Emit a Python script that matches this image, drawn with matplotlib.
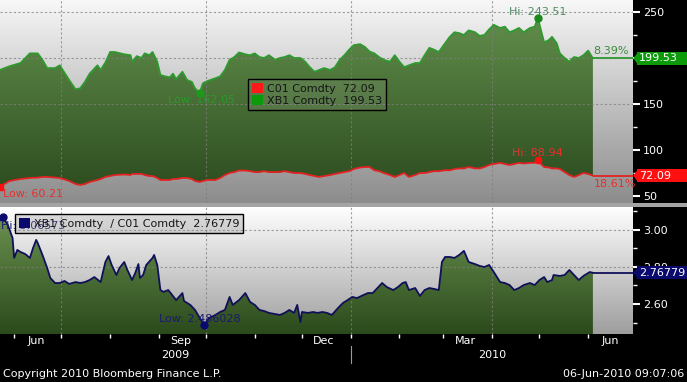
import numpy as np
import pandas as pd
import matplotlib
matplotlib.use('Agg')
import matplotlib.pyplot as plt
import matplotlib.dates as mdates
import matplotlib.transforms as mtrans
from matplotlib.patches import Polygon, Rectangle, Patch
from matplotlib.ticker import AutoMinorLocator, FormatStrFormatter

plt.rcParams['font.family'] = ['DejaVu Sans']

# ---------------- data ----------------
top_dates = ['2009-05-23','2009-05-29','2009-06-05','2009-06-11','2009-06-16','2009-06-19','2009-06-22','2009-06-27','2009-06-30','2009-07-03',
             '2009-07-06','2009-07-10','2009-07-13','2009-07-16','2009-07-19','2009-07-24','2009-07-26','2009-07-29','2009-08-01','2009-08-04',
             '2009-08-10','2009-08-14','2009-08-15','2009-08-18','2009-08-21','2009-08-23','2009-08-26','2009-08-28','2009-08-31','2009-09-02',
             '2009-09-05','2009-09-08','2009-09-10','2009-09-12','2009-09-16','2009-09-19','2009-09-22','2009-09-24','2009-09-27','2009-09-29',
             '2009-10-02','2009-10-07','2009-10-10','2009-10-13','2009-10-16','2009-10-19','2009-10-22','2009-10-26','2009-10-29','2009-11-01',
             '2009-11-04','2009-11-07','2009-11-10','2009-11-14','2009-11-17','2009-11-20','2009-11-23','2009-11-26','2009-11-30','2009-12-03',
             '2009-12-06','2009-12-09','2009-12-12','2009-12-15','2009-12-19','2009-12-22','2009-12-25','2009-12-28','2009-12-31','2010-01-03',
             '2010-01-07','2010-01-10','2010-01-13','2010-01-16','2010-01-19','2010-01-22','2010-01-26','2010-01-29','2010-02-01','2010-02-04',
             '2010-02-07','2010-02-11','2010-02-14','2010-02-17','2010-02-20','2010-02-23','2010-02-26','2010-03-02','2010-03-05','2010-03-08',
             '2010-03-11','2010-03-14','2010-03-17','2010-03-21','2010-03-24','2010-03-27','2010-03-30','2010-04-02','2010-04-06','2010-04-09',
             '2010-04-12','2010-04-15','2010-04-18','2010-04-21','2010-04-25','2010-04-28','2010-04-30','2010-05-02','2010-05-04','2010-05-07',
             '2010-05-09','2010-05-12','2010-05-14','2010-05-17','2010-05-20','2010-05-23','2010-05-26','2010-05-29','2010-06-01','2010-06-04']

xb1 = [187,191,194.5,205,205,198,189,189,192,184,
       176,166,167,174,183,192,187,195,206.5,206.5,
       204,203,196,202,200,205,203,206.5,196,181.5,
       180,179,183,177,185,176,174,167,162.05,172.5,
       175,178,180,187,198,201,206,204,203,205,
       201,200,203,198,200,201,203,200,200,196,
       190,185,187,189,187,190,198,203,209,214,
       215,212,207,205,201,198,196,203,196,190,
       192,194.5,194.5,203,211,209,206.5,216,223,228,
       227,225,230,228,224,225,231,236,232.6,234,
       228,230,232.6,228,232.6,234,243.51,230,217,219.5,
       223,216,205,200,196,201,200,203,208,199.53]

c01 = [60.21,66.3,68.5,69.6,70,70.7,70.7,70,69.6,68,
       66.3,63,62,63,65.2,67.4,68.5,70.7,71.7,72.8,
       73.4,72.8,74,74,74,72.8,71.7,71.7,69.6,67.4,
       67.4,67.4,68.5,68.5,69.6,69.6,68.5,66.3,65.2,66.3,
       67.4,67.4,69.6,72.8,75,76,77.7,77.7,77,76,
       76,77,76,76,76,77,76,75,75,74,
       72.8,71.7,70.7,71.7,72.8,74,75,76,77,79.3,
       81,81.5,81.5,78,77,75,72.8,70.7,72.8,75,
       70.7,72.8,75,75,76,77,77,78,78,79.3,
       80,80,81.5,80,80,81.5,83.7,84.8,86,84.8,
       83.7,84.8,86,85.3,86,86,88.94,84.8,81.5,81,
       80,80,79.3,76,72.8,70.7,72.8,75,74,72.09]

ratio_dates = ['2009-05-23','2009-05-25','2009-05-28','2009-05-31','2009-06-01','2009-06-03','2009-06-05','2009-06-08','2009-06-11','2009-06-13',
               '2009-06-15','2009-06-16','2009-06-19','2009-06-22','2009-06-24','2009-06-27','2009-06-30','2009-07-03','2009-07-06','2009-07-10',
               '2009-07-13','2009-07-16','2009-07-19','2009-07-22','2009-07-26','2009-07-29','2009-07-31','2009-08-02','2009-08-05','2009-08-07',
               '2009-08-10','2009-08-12','2009-08-15','2009-08-17','2009-08-19','2009-08-20','2009-08-22','2009-08-24','2009-08-28','2009-08-29',
               '2009-08-31','2009-09-02','2009-09-04','2009-09-07','2009-09-10','2009-09-12','2009-09-16','2009-09-17','2009-09-21','2009-09-24',
               '2009-09-27','2009-09-30','2009-10-03','2009-10-07','2009-10-10','2009-10-13','2009-10-16','2009-10-18','2009-10-22','2009-10-26',
               '2009-10-29','2009-11-01','2009-11-04','2009-11-07','2009-11-10','2009-11-17','2009-11-20','2009-11-23','2009-11-26','2009-11-28',
               '2009-11-30','2009-12-01','2009-12-05','2009-12-08','2009-12-11','2009-12-14','2009-12-17','2009-12-20','2009-12-24','2009-12-27',
               '2009-12-30','2010-01-02','2010-01-05','2010-01-09','2010-01-12','2010-01-15','2010-01-18','2010-01-21','2010-01-24','2010-01-28',
               '2010-01-31','2010-02-03','2010-02-05','2010-02-07','2010-02-11','2010-02-14','2010-02-17','2010-02-20','2010-02-23','2010-02-26',
               '2010-02-28','2010-03-02','2010-03-05','2010-03-08','2010-03-11','2010-03-14','2010-03-17','2010-03-21','2010-03-24','2010-03-27',
               '2010-03-30','2010-04-02','2010-04-06','2010-04-09','2010-04-12','2010-04-15','2010-04-18','2010-04-21','2010-04-25','2010-04-28',
               '2010-05-01','2010-05-04','2010-05-06','2010-05-09','2010-05-10','2010-05-14','2010-05-17','2010-05-20','2010-05-23','2010-05-26',
               '2010-05-29','2010-06-02','2010-06-04']

ratio = [3.05,3.06573,3.025,2.955,2.848,2.891,2.880,2.869,2.848,2.901,
         2.945,2.928,2.864,2.794,2.740,2.713,2.713,2.724,2.708,2.718,
         2.713,2.718,2.729,2.745,2.718,2.826,2.858,2.810,2.756,2.794,
         2.826,2.783,2.729,2.767,2.815,2.740,2.756,2.810,2.848,2.864,
         2.810,2.675,2.665,2.675,2.643,2.621,2.659,2.616,2.595,2.568,
         2.525,2.486028,2.525,2.541,2.557,2.568,2.638,2.595,2.621,2.659,
         2.611,2.595,2.568,2.562,2.552,2.541,2.552,2.568,2.552,2.595,
         2.503,2.557,2.552,2.557,2.552,2.557,2.552,2.541,2.579,2.605,
         2.621,2.638,2.632,2.648,2.659,2.659,2.686,2.713,2.691,2.675,
         2.691,2.713,2.718,2.675,2.686,2.643,2.675,2.686,2.681,2.675,
         2.826,2.853,2.853,2.848,2.864,2.886,2.826,2.815,2.805,2.799,
         2.810,2.772,2.718,2.713,2.702,2.675,2.686,2.702,2.713,2.702,
         2.729,2.745,2.718,2.729,2.756,2.751,2.756,2.783,2.756,2.729,
         2.751,2.772,2.76779]

pct_labels = ['8.39%', '18.61%']
top_ticks = [50, 100, 150, 200, 250]
ratio_ticks = [2.60, 2.80, 3.00]
series_names = ['C01 Comdty', 'XB1 Comdty', 'XB1 Comdty  / C01 Comdty']
footer_left = 'Copyright 2010 Bloomberg Finance L.P.'
footer_right = '06-Jun-2010 09:07:06'

# ---------------- layout ----------------
W, H = 687, 382
AW = 633.0
TOP_H, BOT_TOP, BOT_BOT = 203, 207, 334
t_start = pd.Timestamp('2009-05-23')
t_end = pd.Timestamp('2010-06-29 12:00')
xlim = (mdates.date2num(t_start), mdates.date2num(t_end))
ylim_top = (42.4, 263.0)
ylim_bot = (2.4385, 3.122)

fig = plt.figure(figsize=(6.87, 3.82), dpi=100, facecolor='black')
ax1 = fig.add_axes([0, 1 - TOP_H / H, AW / W, TOP_H / H])
ax2 = fig.add_axes([0, 1 - BOT_BOT / H, AW / W, (BOT_BOT - BOT_TOP) / H])

GRID = dict(color='#7f7f7f', lw=0.8, ls=(0, (2, 2)), alpha=0.75)


def vgrad(ax, top, bottom, z):
    t = np.linspace(0, 1, 256)[:, None, None]
    img = np.array(top)[None, None, :] * (1 - t) + np.array(bottom)[None, None, :] * t
    img = np.repeat(img, 2, axis=1)
    return ax.imshow(img, extent=[0, 1, 0, 1], transform=ax.transAxes, aspect='auto',
                     zorder=z, interpolation='bilinear')


def value_box(ax, val, txt, fc, ax_h_px):
    tr = mtrans.blended_transform_factory(ax.transAxes, ax.transData)
    y0, y1 = ax.get_ylim()
    upp = (y1 - y0) / ax_h_px
    ax.add_patch(Rectangle((1 + 3.5 / AW, val - 6.5 * upp), 60 / AW, 13 * upp, transform=tr,
                           fc=fc, ec='none', clip_on=False, zorder=9))
    ax.add_patch(Polygon([[1 + 0.3 / AW, val], [1 + 4 / AW, val + 5 * upp], [1 + 4 / AW, val - 5 * upp]],
                         closed=True, transform=tr, fc=fc, ec='none', clip_on=False, zorder=9))
    ax.text(1 + 6 / AW, val, txt, transform=tr, ha='left', va='center', color='white',
            fontsize=8, zorder=10, clip_on=False)


quarters = mdates.MonthLocator(bymonth=[1, 4, 7, 10]).tick_values(t_start.to_pydatetime(), t_end.to_pydatetime())
quarters = [q for q in quarters if xlim[0] < q < xlim[1]]

# ---------------- top panel ----------------
top_d = pd.to_datetime(top_dates)
tn = mdates.date2num(top_d)
xb1_a = np.array(xb1)
c01_a = np.array(c01)

vgrad(ax1, (0.97, 0.97, 0.97), (0.55, 0.55, 0.55), 0)
poly = Polygon(np.vstack([np.column_stack([tn, xb1_a]), np.column_stack([tn[::-1], c01_a[::-1]])]),
               closed=True, transform=ax1.transData, fc='none', ec='none')
ax1.add_patch(poly)
gim = vgrad(ax1, (0.40, 0.58, 0.31), (0.16, 0.28, 0.11), 1)
gim.set_clip_path(poly)
for v in [150, 200, 250]:
    ax1.axhline(v, zorder=2, **GRID)
for q in quarters:
    ax1.axvline(q, zorder=2, **GRID)

ax1.plot(tn, c01_a, color='#e42222', lw=1.3, zorder=4)
ax1.plot(tn, xb1_a, color='#2f9a2f', lw=1.3, zorder=4)
ax1.hlines(xb1_a[-1], tn[-1], xlim[1], color='#2f9a2f', lw=1.3, zorder=4)
ax1.hlines(c01_a[-1], tn[-1], xlim[1], color='#e42222', lw=1.3, zorder=4)

ig_lo, ig_hi = int(np.argmin(xb1_a)), int(np.argmax(xb1_a))
ic_lo, ic_hi = int(np.argmin(c01_a)), int(np.argmax(c01_a))
ax1.plot(tn[ig_lo], xb1_a[ig_lo], 'o', ms=5, color='#1a9a1a', zorder=6)
ax1.plot(tn[ig_hi], xb1_a[ig_hi], 'o', ms=5, color='#1a8a1a', zorder=6)
ax1.plot(tn[ic_lo], c01_a[ic_lo], 's', ms=5, color='#ff1010', zorder=6)
ax1.plot(tn[ic_hi], c01_a[ic_hi], 'o', ms=4.5, color='#ff1010', zorder=6)

ann = dict(textcoords='offset points', fontsize=8, zorder=5)
ax1.annotate(f'Hi: {xb1_a[ig_hi]:.2f}', (tn[ig_hi], xb1_a[ig_hi]), xytext=(0, 4.5), ha='center', va='center', color='#4f8c63', **ann)
ax1.annotate(f'Low: {xb1_a[ig_lo]:.2f}', (tn[ig_lo], xb1_a[ig_lo]), xytext=(1, -5), ha='center', va='center', color='#2a9a2a', **ann)
ax1.annotate(f'Low: {c01_a[ic_lo]:.2f}', (tn[ic_lo], c01_a[ic_lo]), xytext=(2, -5.5), ha='left', va='center', color='#e63030', **ann)
ax1.annotate(f'Hi: {c01_a[ic_hi]:.2f}', (tn[ic_hi], c01_a[ic_hi]), xytext=(0, 5), ha='center', va='center', color='#e63030', **ann)
ax1.annotate(pct_labels[0], (tn[-1], xb1_a[-1]), xytext=(0.5, 5), ha='left', va='center', color='#3c8c3c', **ann)
ax1.annotate(pct_labels[1], (tn[-1], c01_a[-1]), xytext=(0.5, -6), ha='left', va='center', color='#e63030', **ann)

ax1.set_xlim(*xlim)
ax1.set_ylim(*ylim_top)
ax1.yaxis.tick_right()
ax1.set_yticks(top_ticks)
ax1.yaxis.set_minor_locator(AutoMinorLocator(2))
ax1.tick_params(axis='y', which='major', colors='white', labelsize=8, length=5, width=1.5, pad=2)
ax1.tick_params(axis='y', which='minor', colors='white', length=3, width=1)
ax1.tick_params(axis='x', which='both', bottom=False, labelbottom=False)
for s in ax1.spines.values():
    s.set_visible(False)

leg = ax1.legend([Patch(fc='#ff1a1a', ec='none'), Patch(fc='#0a9a0a', ec='none')],
                 [f'{series_names[0]}  {c01_a[-1]:.2f}', f'{series_names[1]}  {xb1_a[-1]:.2f}'],
                 loc='upper left', bbox_to_anchor=(248 / AW, 1 - 79 / TOP_H), fontsize=8,
                 frameon=True, fancybox=False, edgecolor='black', handlelength=1.0, handleheight=1.0,
                 handletextpad=0.35, labelspacing=0.15, borderpad=0.35, borderaxespad=0)
fr = leg.get_frame()
fr.set_alpha(None)
fr.set_facecolor((0.8, 0.8, 0.8, 0.12))
fr.set_edgecolor('black')
fr.set_linewidth(1.0)
for t in leg.get_texts():
    t.set_color('#151515')
leg.set_zorder(8)

value_box(ax1, xb1_a[-1], f'{xb1_a[-1]:.2f}', '#0a9a0a', TOP_H)
value_box(ax1, c01_a[-1], f'{c01_a[-1]:.2f}', '#ff1010', TOP_H)

# ---------------- bottom panel ----------------
rd = pd.to_datetime(ratio_dates)
rn = mdates.date2num(rd)
ra = np.array(ratio)
vgrad(ax2, (1.0, 1.0, 1.0), (0.62, 0.62, 0.62), 0)
poly2 = Polygon(np.vstack([np.column_stack([rn, ra]), [[rn[-1], ylim_bot[0]], [rn[0], ylim_bot[0]]]]),
                closed=True, transform=ax2.transData, fc='none', ec='none')
ax2.add_patch(poly2)
gim2 = vgrad(ax2, (0.435, 0.589, 0.324), (0.17, 0.29, 0.11), 1)
gim2.set_clip_path(poly2)
for v in [2.80, 3.00]:
    ax2.axhline(v, zorder=2, **GRID)
for q in quarters:
    ax2.axvline(q, zorder=2, **GRID)

ax2.plot(rn, ra, color='#10105a', lw=1.3, zorder=4)
ax2.hlines(ra[-1], rn[-1], xlim[1], color='#10105a', lw=1.3, zorder=4)
ir_lo, ir_hi = int(np.argmin(ra)), int(np.argmax(ra))
ax2.plot(rn[ir_hi], ra[ir_hi], 'o', ms=5, color='#0a0a6e', zorder=6)
ax2.plot(rn[ir_lo], ra[ir_lo], 'o', ms=5, color='#0a0a6e', zorder=6)
ax2.annotate(f'Hi: {ra[ir_hi]:.5f}', (rn[0], ra[ir_hi]), xytext=(0.5, -6.5), ha='left', va='center', color='#1a1a6e', **ann)
ax2.annotate(f'Low: {ra[ir_lo]:.6f}', (rn[ir_lo], ra[ir_lo]), xytext=(-3, 4.5), ha='center', va='center', color='#1a1a6e', **ann)

ax2.set_xlim(*xlim)
ax2.set_ylim(*ylim_bot)
ax2.yaxis.tick_right()
ax2.set_yticks(ratio_ticks)
ax2.yaxis.set_major_formatter(FormatStrFormatter('%.2f'))
ax2.yaxis.set_minor_locator(AutoMinorLocator(2))
ax2.tick_params(axis='y', which='major', colors='white', labelsize=8, length=5, width=1.5, pad=2)
ax2.tick_params(axis='y', which='minor', colors='white', length=3, width=1)
ax2.xaxis.set_major_locator(mdates.MonthLocator(bymonth=[3, 6, 9, 12], bymonthday=15))
ax2.xaxis.set_major_formatter(mdates.DateFormatter('%b'))
ax2.xaxis.set_minor_locator(mdates.MonthLocator(bymonthday=1))
ax2.tick_params(axis='x', which='major', length=0, colors='white', labelsize=8, pad=1.5)
ax2.tick_params(axis='x', which='minor', length=3, width=1, colors='white')
for s in ax2.spines.values():
    s.set_visible(False)

leg2 = ax2.legend([Patch(fc='#0a0a6e', ec='none')], [f'{series_names[2]}  {ra[-1]:.5f}'],
                  loc='upper left', bbox_to_anchor=(15 / AW, 1 - 7 / (BOT_BOT - BOT_TOP)), fontsize=8,
                  frameon=True, fancybox=False, edgecolor='black', handlelength=1.0, handleheight=1.0,
                  handletextpad=0.35, borderpad=0.35, borderaxespad=0)
fr2 = leg2.get_frame()
fr2.set_alpha(None)
fr2.set_facecolor((0.55, 0.55, 0.55, 0.3))
fr2.set_edgecolor('black')
fr2.set_linewidth(1.0)
for t in leg2.get_texts():
    t.set_color('#151515')
leg2.set_zorder(8)

value_box(ax2, ra[-1], f'{ra[-1]:.5f}', '#0a0a6e', BOT_BOT - BOT_TOP)

# year row
jan1 = mdates.date2num(pd.Timestamp(year=t_end.year, month=1, day=1))
btr = mtrans.blended_transform_factory(ax2.transData, ax2.transAxes)
ah = BOT_BOT - BOT_TOP
ax2.text((xlim[0] + jan1) / 2, -(355 - BOT_BOT) / ah, str(t_start.year),
         transform=btr, ha='center', va='center', color='white', fontsize=8)
ax2.text((jan1 + xlim[1]) / 2, -(355 - BOT_BOT) / ah, str(t_end.year),
         transform=btr, ha='center', va='center', color='white', fontsize=8)
ax2.plot([jan1, jan1], [-(346 - BOT_BOT) / ah, -(363 - BOT_BOT) / ah], transform=btr,
         color='#9a9a9a', lw=0.8, clip_on=False)

# separator band
fig.add_artist(Rectangle((0, 1 - 207 / H), 1, 4 / H, transform=fig.transFigure,
                         fc='#a4a4a4', ec='none', zorder=1))

fig.text(3 / W, 1 - 374 / H, footer_left, ha='left', va='center', color='white', fontsize=8)
fig.text(684 / W, 1 - 374 / H, footer_right, ha='right', va='center', color='white', fontsize=8)

fig.savefig('out.png', dpi=100, facecolor='black')
